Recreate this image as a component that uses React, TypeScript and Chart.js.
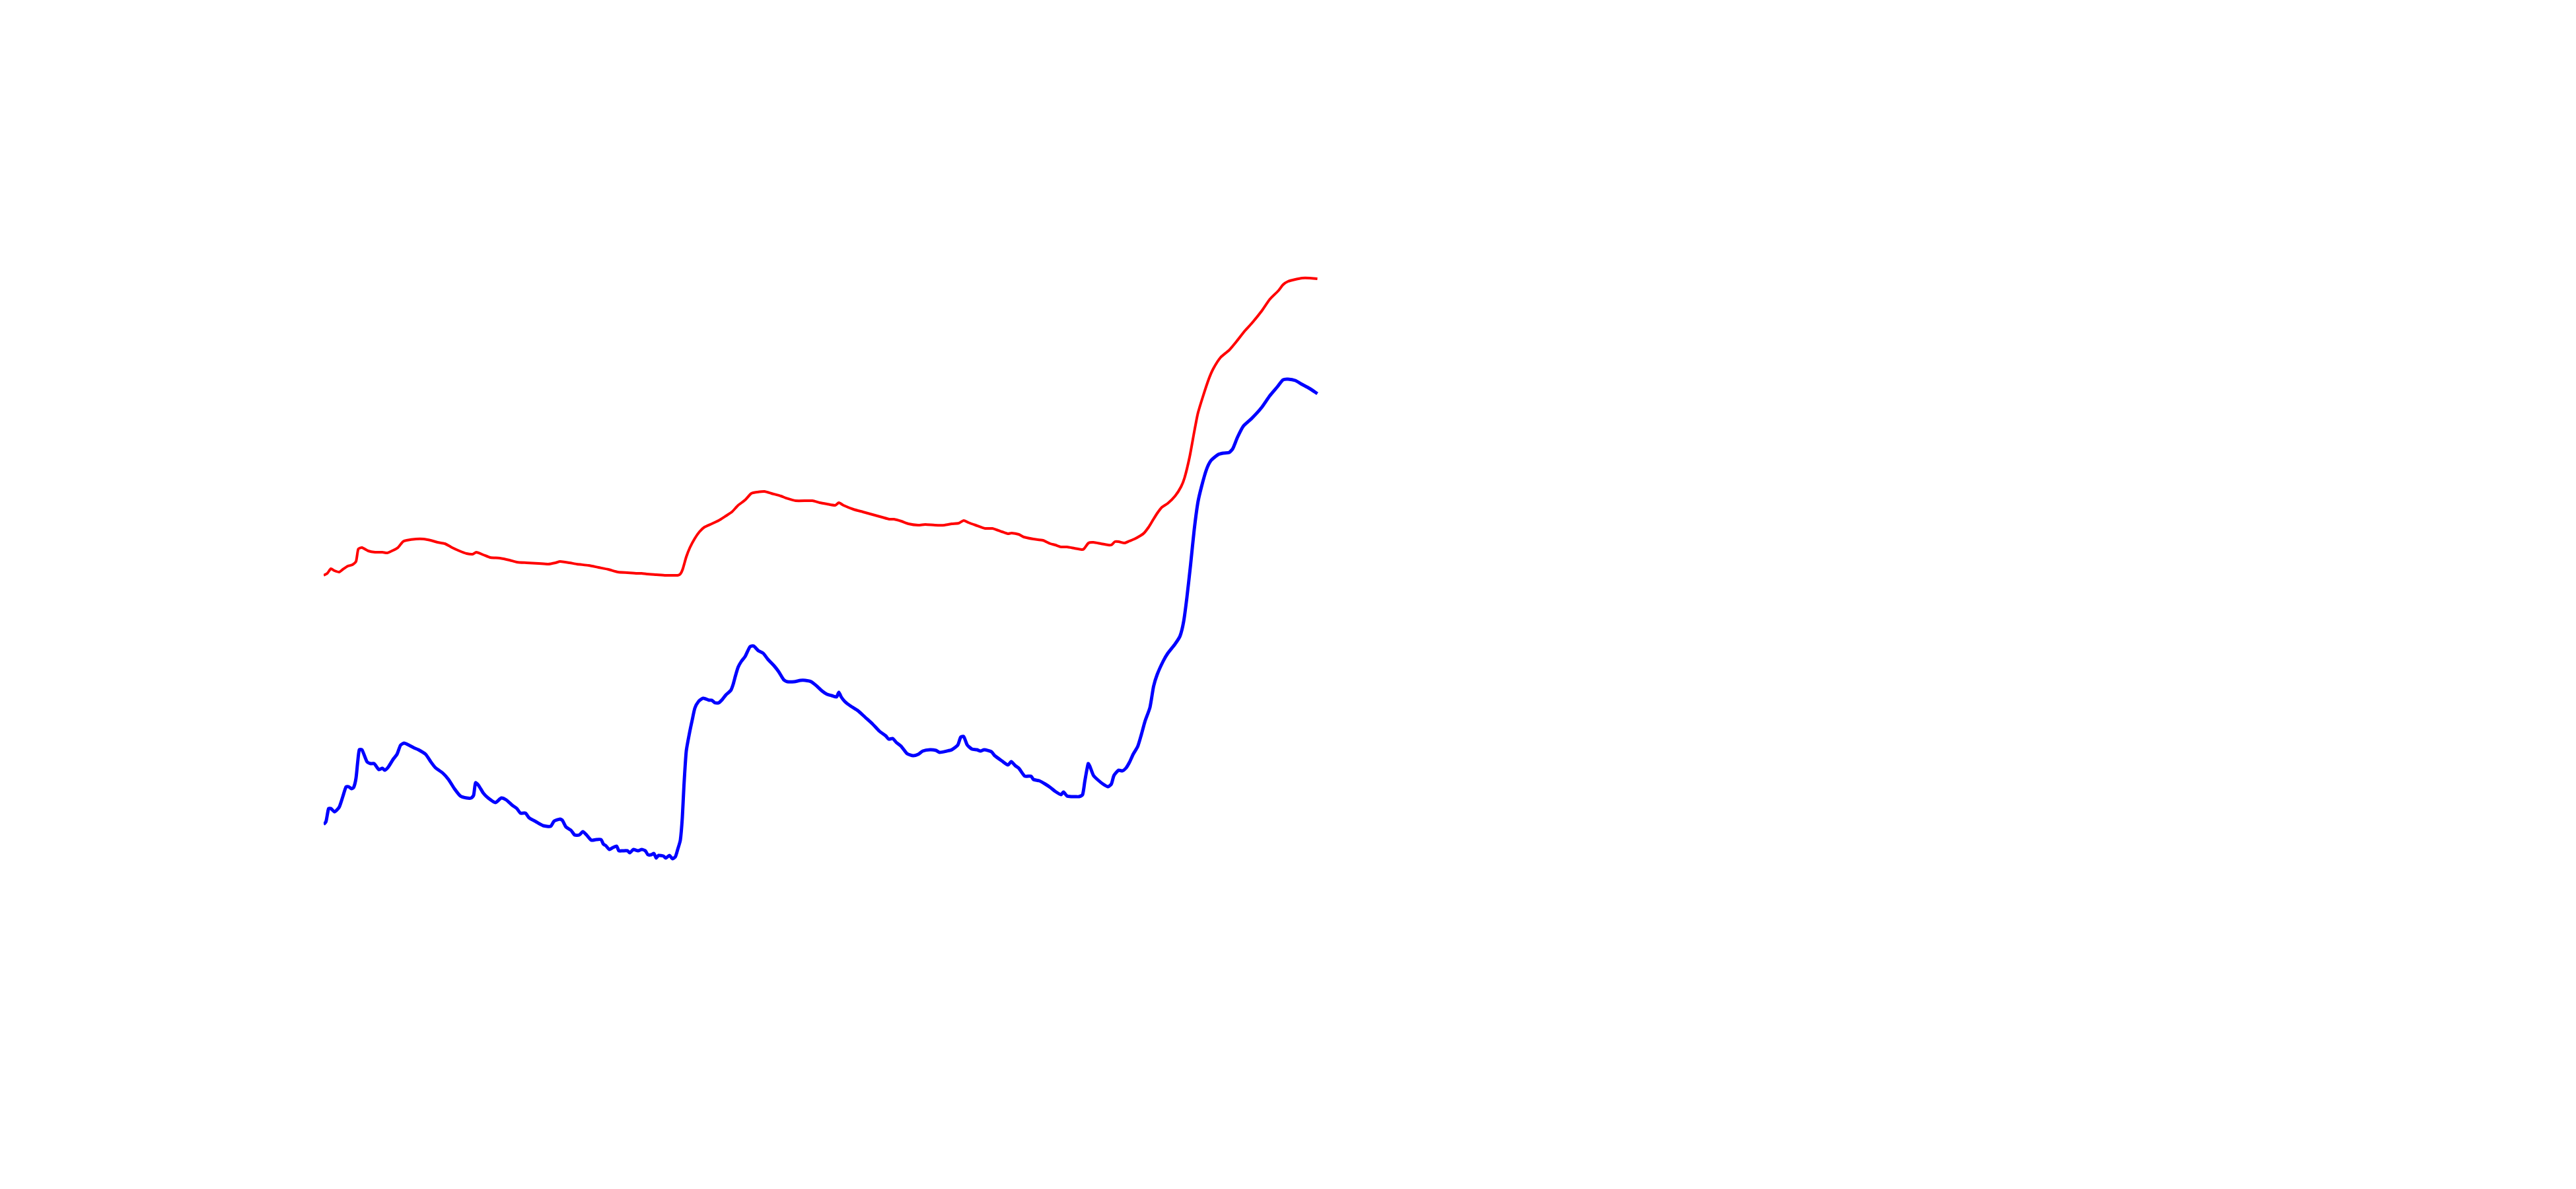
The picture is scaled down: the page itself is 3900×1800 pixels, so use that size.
import React, { useEffect, useRef } from "react";
import { Chart, registerables } from "chart.js";

Chart.register(...registerables);

// Red series
const redX = [0.0, 1.1, 2.2, 3.3, 4.7, 5.8, 7.3, 8.7, 9.8, 10.5, 11.6, 13.5, 15.6, 17.8, 19.3, 21.1, 22.5, 24.0, 25.1, 28.0, 30.2, 32.4, 34.5, 36.7, 38.9, 41.1, 43.3, 45.1, 46.2, 48.4, 50.5, 53.4, 56.3, 58.5, 61.4, 65.1, 68.0, 70.2, 71.6, 74.5, 76.7, 80.3, 83.2, 86.2, 89.1, 92.0, 94.9, 96.3, 97.8, 100.7, 103.6, 105.8, 107.2,
  108.0, 108.7, 109.8, 110.9, 112.4, 113.8, 115.3, 117.5, 119.6, 121.8, 123.6, 125.5, 127.6, 129.5, 131.3, 133.5, 135.6, 138.5, 140.0, 142.9, 148.0, 150.2, 152.4, 154.9, 156.0, 157.4, 160.4, 163.3, 166.2, 169.1, 171.3, 172.7, 174.9, 177.1, 180.0, 182.2, 185.1, 188.0, 190.2, 192.3, 193.8, 195.2, 197.4, 200.3, 202.5, 205.4, 207.2, 208.3, 210.5, 212.0, 214.9, 217.8,
  220.0, 221.5, 223.3, 225.1, 227.3, 229.5, 230.2, 231.6, 233.1, 235.3, 237.5, 238.5, 239.6, 240.7, 242.5, 244.0, 245.5, 247.3, 248.4, 249.8, 250.9, 252.4, 253.8, 255.6, 257.8, 259.6, 260.7, 262.2, 263.6, 264.7, 266.2, 268.0, 269.4, 271.6, 274.2, 276.4, 278.9, 281.1, 284.0, 286.5, 289.1, 290.5, 292.0, 294.2, 296.3, 298.5, 300.9];
const redY = [92.1, 92.4, 93.1, 92.8, 92.6, 93.0, 93.5, 93.7, 94.2, 96.1, 96.3, 95.8, 95.6, 95.6, 95.5, 95.9, 96.3, 97.2, 97.4, 97.6, 97.6, 97.4, 97.1, 96.9, 96.3, 95.8, 95.4, 95.3, 95.6, 95.2, 94.8, 94.7, 94.4, 94.1, 94.0, 93.9, 93.8, 94.0, 94.2, 94.0, 93.8, 93.6, 93.3, 93.0, 92.6, 92.5, 92.4, 92.4, 92.3, 92.2, 92.1, 92.1, 92.1,
  92.3, 93.0, 94.9, 96.3, 97.7, 98.7, 99.4, 99.9, 100.4, 101.1, 101.7, 102.7, 103.5, 104.5, 104.7, 104.8, 104.5, 104.1, 103.8, 103.4, 103.4, 103.1, 102.9, 102.7, 103.1, 102.7, 102.1, 101.7, 101.3, 100.9, 100.6, 100.6, 100.3, 99.9, 99.7, 99.8, 99.7, 99.7, 99.9, 100.0, 100.4, 100.1, 99.7, 99.2, 99.2, 98.7, 98.4, 98.5, 98.3, 97.9, 97.6, 97.4,
  96.9, 96.7, 96.4, 96.4, 96.2, 96.0, 96.1, 97.0, 97.1, 96.9, 96.7, 96.7, 97.2, 97.2, 97.0, 97.3, 97.6, 98.1, 98.5, 99.4, 100.3, 101.5, 102.4, 103.0, 104.1, 105.5, 106.9, 110.0, 113.8, 116.6, 119.1, 121.8, 123.4, 125.1, 126.2, 127.5, 129.1, 130.3, 132.1, 133.9, 135.2, 136.1, 136.6, 136.9, 137.1, 137.1, 137.0];

// Blue series
const blueX = [0.0, 0.7, 1.5, 2.2, 3.3, 4.7, 5.8, 6.8, 7.6, 8.4, 9.1, 9.8, 10.3, 10.8, 11.6, 13.1, 14.2, 15.3, 16.7, 17.8, 18.5, 19.6, 21.1, 22.2, 23.3, 24.4, 25.8, 27.3, 28.7, 30.9, 32.4, 33.8, 36.0, 37.8, 39.6, 41.4, 43.3, 44.7, 45.4, 46.0, 46.9, 48.4, 49.8, 52.0, 53.8, 55.3, 57.1, 58.5, 59.6, 61.1, 62.2, 64.3, 66.5, 68.7, 69.8, 71.6, 72.3, 73.4, 74.9, 76.0, 77.4, 78.5, 79.6, 81.1, 82.5, 84.0, 84.7, 85.4, 86.5, 87.6, 88.7, 89.4, 90.5, 92.0, 92.7, 93.8, 95.2, 96.3, 97.4, 98.2, 99.2, 100.0, 100.7, 101.4, 102.9, 103.6, 104.7, 105.6, 106.5, 107.2,
  108.0, 108.6, 109.1, 109.8, 110.8, 111.6, 112.4, 113.5, 114.9, 116.7, 117.5, 118.5, 119.6, 120.7, 121.8, 123.3, 124.0, 124.7, 125.5, 126.5, 127.6, 129.1, 130.2, 131.6, 133.1, 134.5, 136.4, 137.8, 139.3, 140.4, 142.5, 144.4, 145.8, 147.6, 149.4, 150.9, 152.4, 153.8, 155.3, 156.0, 156.7, 157.8, 159.6, 161.8, 164.0, 166.2, 168.3, 170.2, 171.1, 172.3, 173.4, 174.9, 176.7, 178.5, 180.0, 181.4, 183.6, 185.4, 186.5, 188.7, 190.2, 192.0, 192.9, 193.8, 194.9, 196.3, 197.8, 198.9, 200.0, 202.2, 203.2, 205.4, 207.2, 208.2, 209.4, 210.5, 212.3, 214.2, 214.9, 216.7, 218.5,
  220.0, 221.5, 223.3, 224.0, 225.1, 226.5, 227.6, 228.7, 229.8, 230.5, 231.5, 232.0, 233.1, 234.5, 236.0, 237.5, 238.5, 239.3, 240.7, 241.8, 242.9, 244.0, 245.1, 246.5, 247.6, 248.7, 250.2, 251.3, 252.4, 254.2, 255.6, 257.8, 259.3, 260.4, 261.4, 262.5, 263.6, 264.7, 265.8, 267.3, 268.7, 270.9, 272.4, 274.2, 275.3, 276.7, 278.5, 281.1, 284.0, 286.5, 288.7, 290.5, 292.0, 294.2, 296.3, 298.5, 300.9];
const blueY = [54.4, 54.8, 56.8, 56.8, 56.3, 57.0, 58.6, 60.1, 60.1, 59.8, 60.0, 61.4, 63.8, 65.7, 65.7, 63.9, 63.6, 63.6, 62.7, 62.9, 62.6, 63.1, 64.3, 65.0, 66.4, 66.7, 66.4, 66.0, 65.7, 65.0, 63.9, 63.0, 62.2, 61.2, 59.8, 58.7, 58.4, 58.4, 58.8, 60.7, 60.3, 59.1, 58.4, 57.7, 58.4, 58.1, 57.3, 56.8, 56.1, 56.1, 55.4, 54.8, 54.2, 54.1, 54.9, 55.2, 55.0, 54.0, 53.5, 52.8, 52.8, 53.3, 52.8, 52.0, 52.1, 52.1, 51.4, 51.2, 50.6, 50.9, 51.1, 50.4, 50.4, 50.4, 50.1, 50.6, 50.4, 50.6, 50.4, 49.8, 49.8, 50.0, 49.3, 49.7, 49.6, 49.3, 49.7, 49.2, 49.5, 50.6,
  52.0, 55.4, 60.3, 65.5, 68.3, 70.2, 72.0, 73.0, 73.5, 73.2, 73.2, 72.8, 72.8, 73.3, 74.0, 74.7, 75.6, 76.9, 78.2, 79.1, 79.8, 81.3, 81.4, 80.7, 80.3, 79.4, 78.4, 77.5, 76.3, 76.0, 76.0, 76.2, 76.2, 76.0, 75.3, 74.6, 74.1, 73.9, 73.7, 74.4, 73.7, 73.0, 72.3, 71.6, 70.6, 69.6, 68.5, 67.8, 67.3, 67.4, 66.8, 66.2, 65.1, 64.8, 65.0, 65.5, 65.7, 65.6, 65.3, 65.5, 65.7, 66.4, 67.6, 67.7, 66.4, 65.8, 65.7, 65.5, 65.7, 65.4, 64.8, 64.0, 63.4, 63.9, 63.3, 62.9, 61.7, 61.7, 61.2, 61.0, 60.5,
  60.0, 59.4, 58.9, 59.3, 58.7, 58.6, 58.6, 58.6, 58.9, 61.0, 63.6, 63.2, 61.8, 61.1, 60.5, 60.1, 60.5, 61.8, 62.6, 62.5, 62.9, 63.8, 65.0, 66.2, 68.0, 70.0, 72.1, 75.3, 77.1, 79.1, 80.3, 81.7, 82.9, 85.1, 88.8, 93.7, 99.0, 103.1, 105.5, 108.1, 109.5, 110.4, 110.6, 110.7, 111.3, 113.0, 114.7, 115.9, 117.5, 119.3, 120.6, 121.7, 121.8, 121.6, 121.0, 120.4, 119.6];

const X_MIN = 0;
const X_MAX = 680.4;
const Y_MIN = 0;
const Y_MAX = 178.4;

const toPoints = (xs: number[], ys: number[]) => xs.map((x, i) => ({ x, y: ys[i] }));

export default function App() {
  const canvasRef = useRef<HTMLCanvasElement | null>(null);

  useEffect(() => {
    const canvas = canvasRef.current;
    if (!canvas) return;
    const chart = new Chart(canvas, {
      type: "line",
      data: {
        datasets: [
          {
            label: "Red",
            data: toPoints(redX, redY),
            borderColor: "#ff0000",
            backgroundColor: "#ff0000",
            borderWidth: 4,
            pointRadius: 0,
            tension: 0.2,
            fill: false,
          },
          {
            label: "Blue",
            data: toPoints(blueX, blueY),
            borderColor: "#0000ff",
            backgroundColor: "#0000ff",
            borderWidth: 5,
            pointRadius: 0,
            tension: 0.2,
            fill: false,
          },
        ],
      },
      options: {
        animation: false,
        responsive: true,
        maintainAspectRatio: false,
        layout: { padding: { left: 482, right: 0, top: 0, bottom: 0 } },
        plugins: { legend: { display: false }, tooltip: { enabled: false }, title: { display: false } },
        scales: {
          x: { type: "linear", min: X_MIN, max: X_MAX, display: false },
          y: { type: "linear", min: Y_MIN, max: Y_MAX, display: false },
        },
      },
    });
    return () => chart.destroy();
  }, []);

  return (
    <div style={{ position: "relative", width: "3884px", height: "1784px" }}>
      <canvas ref={canvasRef} />
    </div>
  );
}
